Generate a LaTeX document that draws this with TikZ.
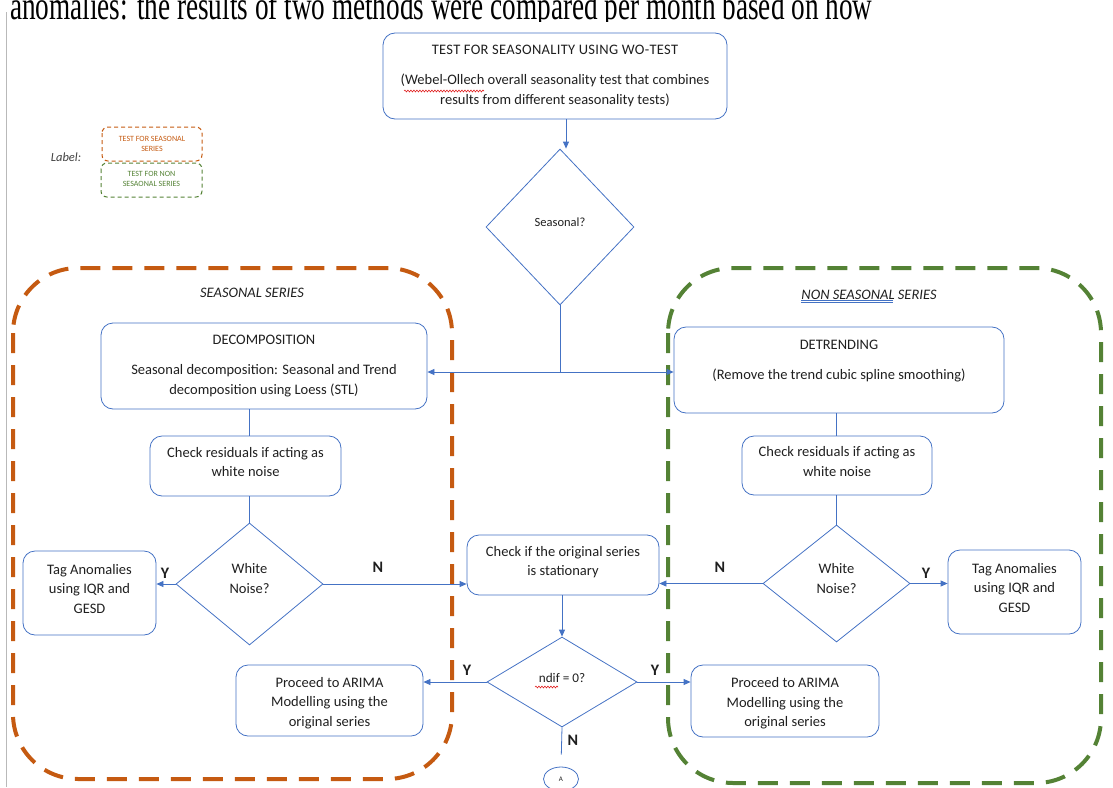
\documentclass[tikz,border=0pt]{standalone}
\usepackage{fontspec}
\setmainfont{Carlito}
\newfontfamily\leadserif{Liberation Serif}
\usetikzlibrary{shapes.geometric,arrows.meta,decorations.pathmorphing,calc}
\definecolor{flowblue}{HTML}{4472C4}
\definecolor{seasorange}{HTML}{C55A11}
\definecolor{nsgreen}{HTML}{548235}
\definecolor{inktext}{HTML}{1F1F1F}
\definecolor{spellred}{HTML}{E02020}
\begin{document}
\begin{tikzpicture}[x=1pt,y=-1pt,
  every node/.style={font=\fontsize{14.5}{19.5}\selectfont, text=inktext},
  procbox/.style={draw=flowblue, line width=0.8pt, rounded corners=12pt, align=center, inner sep=0pt},
  decision/.style={draw=flowblue, line width=0.8pt, diamond, align=center, inner sep=0pt},
  flow/.style={draw=flowblue, line width=0.8pt},
  arr/.style={flow, -{Triangle[length=7pt,width=6pt]}},
  yn/.style={font=\fontsize{16}{16}\selectfont\bfseries, inner sep=0pt},
  region/.style={line width=4pt, dash pattern=on 20pt off 12pt, rounded corners=65pt},
  keybox/.style={line width=1pt, dash pattern=on 4pt off 3pt, rounded corners=6pt},
  keytext/.style={font=\fontsize{8}{10}\selectfont, align=center, inner sep=0pt},
  squiggle/.style={draw=spellred, line width=0.6pt, decorate, decoration={snake, amplitude=0.9pt, segment length=3pt}},
]
\useasboundingbox (0,0) rectangle (1113,787);

% running text above the figure, cut by the page top
\begin{scope}
  \clip (0,0) rectangle (1113,21);
  \node[anchor=base west, inner sep=0pt, text=black] (lead) at (10,19)
    {\resizebox{862pt}{\height}{\leadserif\fontsize{40}{40}\selectfont anomalies: the results of two methods were compared per month based on how}};
\end{scope}
\draw[gray!55, line width=0.8pt] (6.5,12) -- (6.5,787);

% series regions
\draw[region, seasorange] (13,268) rectangle (452,779);
\draw[region, nsgreen] (668,268) rectangle (1101,783);
\node[font=\fontsize{14.5}{17}\selectfont\itshape] (seaslbl) at (252,293) {SEASONAL SERIES};
\node[font=\fontsize{14.5}{17}\selectfont\itshape] (nseaslbl) at (869,295) {NON SEASONAL SERIES};
\draw[flowblue, line width=0.5pt] (801,300.5) -- (893,300.5) (801,302.5) -- (893,302.5);

% key
\node[font=\fontsize{12.5}{14}\selectfont\itshape, text=inktext!85] (keylbl) at (66,157) {Label:};
\draw[keybox, seasorange] (102,127) rectangle (202,161);
\node[keytext, text=seasorange] (keyseas) at (152,144) {TEST FOR SEASONAL\\SERIES};
\draw[keybox, nsgreen] (101,163) rectangle (202,197);
\node[keytext, text=nsgreen] (keynon) at (151.5,179) {TEST FOR NON\\SESAONAL SERIES};

% top of the flow
\node[procbox, minimum width=344pt, minimum height=86pt] (top) at (555,76)
  {{\addfontfeature{LetterSpace=2.2}TEST FOR SEASONALITY USING WO-TEST}\\[10.5pt](Webel-Ollech overall seasonality test that combines\\results from different seasonality tests)};
\draw[squiggle] (404,91) -- (484,91);
\node[decision, minimum width=148pt, minimum height=156pt, font=\fontsize{12.5}{19.5}\selectfont] (sd) at (560,227) {Seasonal?\\[-9.5pt]};

% seasonal branch
\node[procbox, minimum width=326pt, minimum height=86pt] (decomp) at (264,366)
  {DECOMPOSITION\\[10.5pt]Seasonal decomposition: Seasonal and Trend\\decomposition using Loess (STL)};
\node[procbox, minimum width=191pt, minimum height=60pt] (chkL) at (245.5,466)
  {Check residuals if acting as\\white noise\\[-11.5pt]};
\node[decision, minimum width=147pt, minimum height=122pt] (wnL) at (249.5,584) {White\\Noise?\\[-8.5pt]};
\node[procbox, minimum width=133pt, minimum height=84pt] (tagL) at (89.5,593)
  {Tag Anomalies\\using IQR and\\GESD\\[-10.5pt]};
\node[procbox, minimum width=187pt, minimum height=71pt] (arL) at (329.5,700.5)
  {\mbox{}\\[-5pt]Proceed to ARIMA\\Modelling using the\\original series};

% stationarity check
\node[procbox, minimum width=192pt, minimum height=60pt] (stat) at (563,565)
  {Check if the original series\\is stationary\\[-11.5pt]};
\node[decision, minimum width=150pt, minimum height=90pt, font=\fontsize{13.2}{19.5}\selectfont] (nd) at (562,682) {ndif = 0?\\[-11.5pt]};
\draw[squiggle] (535,687) -- (558,687);
\node[draw=flowblue, line width=0.8pt, ellipse, minimum width=35pt, minimum height=24pt, inner sep=0pt,
  font=\fontsize{7}{8}\selectfont] (conA) at (561,779) {A};

% non-seasonal branch
\node[procbox, minimum width=330pt, minimum height=86pt] (detr) at (839,370)
  {DETRENDING\\[10.5pt](Remove the trend cubic spline smoothing)\\~};
\node[procbox, minimum width=190pt, minimum height=59pt] (chkR) at (837,465.5)
  {Check residuals if acting as\\white noise\\[-11.5pt]};
\node[decision, minimum width=147pt, minimum height=117pt] (wnR) at (836.5,583.5) {White\\Noise?\\[-9.5pt]};
\node[procbox, minimum width=133pt, minimum height=84pt] (tagR) at (1014.5,592)
  {Tag Anomalies\\using IQR and\\GESD\\[-10.5pt]};
\node[procbox, minimum width=188pt, minimum height=72pt] (arR) at (785,701)
  {\mbox{}\\[-5pt]Proceed to ARIMA\\Modelling using the\\original series};

% connectors
\draw[arr] (top.south -| 566,0) -- (sd.north -| 566,0);
\coordinate (split) at (sd.south |- 0,372);
\draw[flow] (sd.south) -- (split);
\draw[arr] (split) -- (split -| decomp.east);
\draw[arr] (split) -- (split -| detr.west);

\draw[flow] (decomp.south -| wnL.north) -- (chkL.north -| wnL.north);
\draw[flow] (chkL.south -| wnL.north) -- (wnL.north);
\draw[arr] (wnL.west) -- (wnL.west -| tagL.east);
\draw[arr] (wnL.east) -- (wnL.east -| stat.west);

\draw[flow] (detr.south -| wnR.north) -- (chkR.north -| wnR.north);
\draw[flow] (chkR.south -| wnR.north) -- (wnR.north);
\draw[arr] (wnR.east) -- (wnR.east -| tagR.west);
\draw[arr] (wnR.west) -- (wnR.west -| stat.east);

\draw[arr] (stat.south -| nd.north) -- (nd.north);
\draw[arr] (nd.west) -- (nd.west -| arL.east);
\draw[arr] (nd.east) -- (nd.east -| arR.west);
\draw[flow, shorten >=12pt] (nd.south) -- (conA.north);

% branch labels
\node[yn] (yL) at (165,573) {Y};
\node[yn] (nL) at (378,567) {N};
\node[yn] (nR) at (720,567) {N};
\node[yn] (yR) at (926,573) {Y};
\node[yn] (yndL) at (467,670) {Y};
\node[yn] (yndR) at (655,670) {Y};
\node[yn] (nnd) at (573,740) {N};
\end{tikzpicture}
\end{document}
